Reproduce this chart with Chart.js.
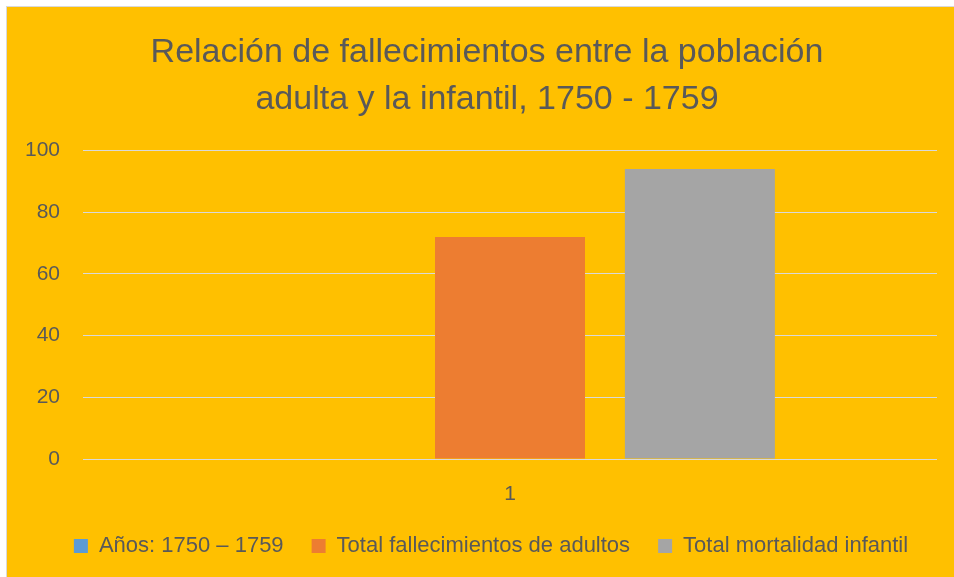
<!DOCTYPE html>
<html>
<head>
<meta charset="utf-8">
<script src="https://cdn.jsdelivr.net/npm/chart.js@4"></script>
<style>
  html, body { margin: 0; padding: 0; background: #fff; overflow: hidden; }
  #frame {
    position: absolute; left: 6px; top: 6px;
    width: 960px; height: 600px;
    background: #FFC000;
    border-left: 1px solid #d9d9d9; border-top: 1px solid #d9d9d9;
  }
  canvas { display: block; }
</style>
</head>
<body>
<div id="frame"><canvas id="chart" width="947" height="576"></canvas></div>
<script>
const categories = ['1'];
const seriesNames = ['Años: 1750 – 1759', 'Total fallecimientos de adultos', 'Total mortalidad infantil'];
const yearsValues = [0];
const adultDeaths = [72];
const infantDeaths = [94];
const seriesColors = ['#5B9BD5', '#ED7D31', '#A5A5A5'];
const titleLines = ['Relación de fallecimientos entre la población', 'adulta y la infantil, 1750 - 1759'];

const textColor = '#595959';
const fontFamily = '"Liberation Sans", Arial, sans-serif';

// title and legend sit a little right of the canvas centre in the original
const nudgeBlocks = {
  id: 'nudgeBlocks',
  afterLayout(chart) {
    chart.titleBlock.left += 12;
    chart.legend.left += 20;
  }
};

const ctx = document.getElementById('chart');

new Chart(ctx, {
  type: 'bar',
  data: {
    labels: categories,
    datasets: [yearsValues, adultDeaths, infantDeaths].map((values, i) => ({
      label: seriesNames[i],
      data: values,
      backgroundColor: seriesColors[i],
      borderWidth: 0,
      categoryPercentage: 0.667,
      barPercentage: 0.79
    }))
  },
  options: {
    responsive: false,
    animation: false,
    layout: { padding: { left: 18, right: 17, top: 0, bottom: 16 } },
    plugins: {
      title: {
        display: true,
        text: titleLines,
        color: textColor,
        font: { family: fontFamily, size: 34, weight: 'normal', lineHeight: 1.39 },
        padding: { top: 22, bottom: 27 }
      },
      legend: {
        position: 'bottom',
        labels: {
          color: textColor,
          font: { family: fontFamily, size: 22 },
          boxWidth: 14,
          boxHeight: 14,
          padding: 28
        }
      },
      tooltip: { enabled: false }
    },
    scales: {
      x: {
        grid: { display: false, drawTicks: false },
        border: { display: false },
        ticks: { color: textColor, font: { family: fontFamily, size: 21 }, padding: 23 },
        afterFit: (scale) => { scale.height = 48; }
      },
      y: {
        min: 0,
        max: 100,
        ticks: { stepSize: 20, color: textColor, font: { family: fontFamily, size: 21 }, padding: 23 },
        grid: { color: '#D9D9D9', lineWidth: 1, drawTicks: false },
        border: { display: false },
        afterFit: (scale) => { scale.width = 58; }
      }
    }
  },
  plugins: [nudgeBlocks]
});
</script>
</body>
</html>
